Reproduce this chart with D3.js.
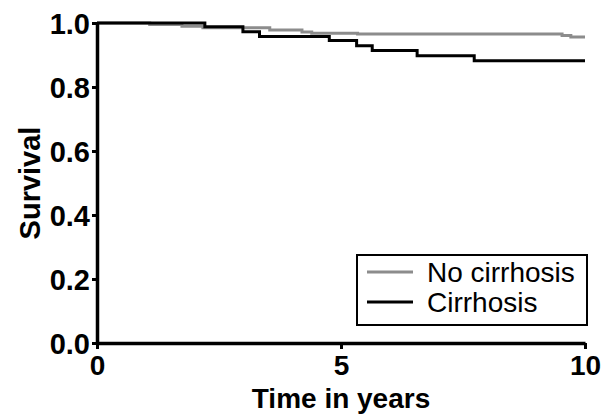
<!DOCTYPE html>
<html>
<head>
<meta charset="utf-8">
<script src="https://cdn.jsdelivr.net/npm/d3@7"></script>
<style>
    body { margin: 0; background: #fff; }
    svg text { font-family: "Liberation Sans", Arial, sans-serif; }
</style>
</head>
<body>
<svg id="km"></svg>
<script>
    // step points: [time in years, survival]
    const noCirrhosis = [[0, 1.0], [1.08, 0.995], [1.74, 0.99], [2.17, 0.985], [3.54, 0.978],
        [4.2, 0.972], [4.4, 0.968], [5.34, 0.966], [9.53, 0.961], [9.71, 0.956], [10, 0.956]];
    const cirrhosis = [[0, 1.0], [2.21, 0.988], [2.99, 0.973], [3.33, 0.958], [4.76, 0.945],
        [5.32, 0.929], [5.64, 0.914], [6.56, 0.898], [7.73, 0.882], [10, 0.882]];
    const seriesNames = ['No cirrhosis', 'Cirrhosis'];
    const seriesColors = ['#8c8c8c', '#000000'];
    const xTicks = [0, 5, 10];
    const yTicks = [0, 0.2, 0.4, 0.6, 0.8, 1.0];

    const W = 602, H = 414;
    const margin = { top: 23, right: 17, bottom: 71, left: 97 };
    const width = W - margin.left - margin.right;
    const height = H - margin.top - margin.bottom;

    const svg = d3.select('#km')
        .attr('width', W)
        .attr('height', H);

    const chart = svg.append('g')
        .attr('transform', `translate(${margin.left}, ${margin.top})`);

    const x = d3.scaleLinear().domain([0, 10]).range([0, width]);
    const y = d3.scaleLinear().domain([0, 1]).range([height, 0]);

    const line = d3.line()
        .x((d) => x(d[0]))
        .y((d) => y(d[1]))
        .curve(d3.curveStepAfter);

    [noCirrhosis, cirrhosis].forEach((s, i) => {
        chart.append('path')
            .datum(s)
            .attr('fill', 'none')
            .attr('stroke', seriesColors[i])
            .attr('stroke-width', 3)
            .attr('d', line);
    });

    const xAxis = chart.append('g')
        .attr('transform', `translate(0, ${height})`)
        .call(d3.axisBottom(x).tickValues(xTicks).tickSize(6).tickSizeOuter(0).tickPadding(6));
    const yAxis = chart.append('g')
        .call(d3.axisLeft(y).tickValues(yTicks).tickSize(5).tickSizeOuter(0).tickPadding(2)
            .tickFormat(d3.format('.1f')));

    [xAxis, yAxis].forEach((a) => {
        a.select('.domain').attr('stroke-width', 3.5);
        a.selectAll('.tick line').attr('stroke-width', 3);
        a.selectAll('.tick text')
            .attr('fill', '#000')
            .style('font-size', '29px')
            .style('font-weight', 'bold');
    });
    xAxis.selectAll('.tick text').style('font-size', '28px');
    yAxis.selectAll('.tick text').attr('dy', '0.36em');

    svg.append('text')
        .attr('x', margin.left + width / 2)
        .attr('y', 408)
        .attr('text-anchor', 'middle')
        .style('font-size', '28px')
        .style('font-weight', 'bold')
        .text('Time in years');

    svg.append('text')
        .attr('transform', `translate(40, ${margin.top + height / 2}) rotate(-90)`)
        .attr('text-anchor', 'middle')
        .style('font-size', '29px')
        .style('font-weight', 'bold')
        .text('Survival');

    // legend
    const legend = svg.append('g').attr('transform', 'translate(357, 255)');
    legend.append('rect')
        .attr('width', 230)
        .attr('height', 70)
        .attr('fill', '#fff')
        .attr('stroke', '#000')
        .attr('stroke-width', 2);
    seriesNames.forEach((name, i) => {
        legend.append('line')
            .attr('x1', 10).attr('x2', 56)
            .attr('y1', 17 + i * 30).attr('y2', 17 + i * 30)
            .attr('stroke', seriesColors[i])
            .attr('stroke-width', 3);
        legend.append('text')
            .attr('x', 70)
            .attr('y', 17 + i * 30)
            .attr('dy', '0.36em')
            .style('font-size', '28px')
            .text(name);
    });
</script>
</body>
</html>
